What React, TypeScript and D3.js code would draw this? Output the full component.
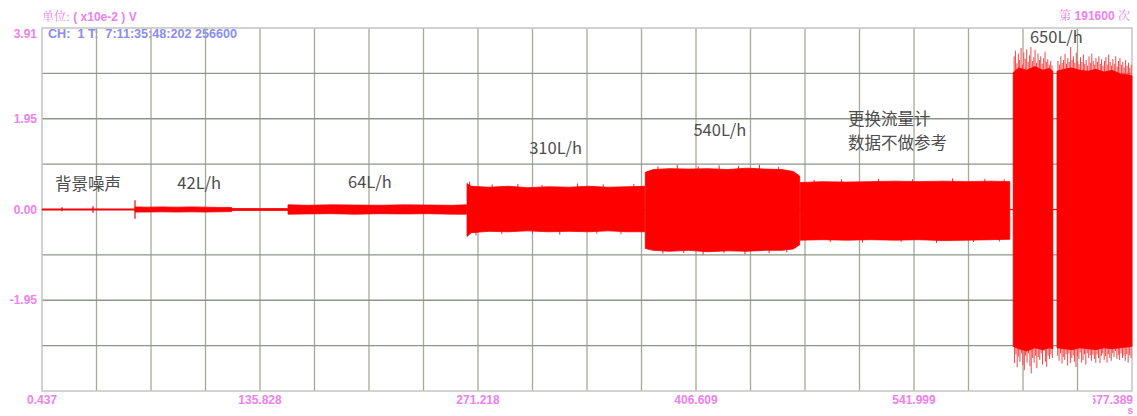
import React from "react";
import * as d3 from "d3";

// envelope of the waveform per section: [time s, upper, lower]  (unit x10e-2 V)
const noiseEnv = [[0.437, 0.012, -0.012], [57.9, 0.012, -0.012]];
const flow42Env = [
  [58.2, 0.055, -0.055], [66, 0.05, -0.055], [75, 0.055, -0.05], [84, 0.05, -0.055],
  [93, 0.055, -0.05], [102, 0.05, -0.055], [110, 0.045, -0.05], [118.2, 0.045, -0.045],
  [118.5, 0.02, -0.02], [152.9, 0.02, -0.02]
];
const flow64Env = [
  [153.2, 0.1, -0.1], [165, 0.09, -0.095], [180, 0.1, -0.09], [195, 0.095, -0.1],
  [210, 0.09, -0.09], [225, 0.1, -0.095], [240, 0.095, -0.09], [255, 0.09, -0.1], [264.1, 0.1, -0.1]
];
const flow310Env = [
  [264.4, 0.56, -0.58], [267, 0.5, -0.5], [278, 0.48, -0.47], [290, 0.5, -0.48],
  [302, 0.47, -0.46], [315, 0.49, -0.48], [328, 0.48, -0.47], [340, 0.5, -0.48],
  [352, 0.48, -0.46], [364, 0.49, -0.48], [374.8, 0.5, -0.48]
];
const flow540Env = [
  [375.1, 0.8, -0.84], [380, 0.86, -0.88], [390, 0.88, -0.9], [402, 0.87, -0.88],
  [414, 0.88, -0.91], [426, 0.86, -0.89], [438, 0.89, -0.9], [450, 0.87, -0.88],
  [460, 0.86, -0.88], [467, 0.82, -0.85], [471, 0.72, -0.76]
];
const swapMeterEnv = [
  [471.3, 0.58, -0.66], [485, 0.6, -0.65], [500, 0.59, -0.66], [515, 0.6, -0.65],
  [530, 0.61, -0.66], [545, 0.6, -0.65], [560, 0.61, -0.67], [575, 0.6, -0.66],
  [590, 0.61, -0.65], [601.5, 0.6, -0.64]
];
const flow650aEnv = [
  [603.6, 2.95, -2.95], [607, 3.05, -3.0], [612, 3.0, -3.05], [617, 3.08, -2.98],
  [622, 3.0, -3.02], [626, 3.04, -2.98], [628.2, 2.98, -3.0]
];
const flow650bEnv = [
  [630.8, 2.98, -2.98], [635, 3.02, -3.0], [640, 3.05, -3.02], [645, 3.0, -2.98],
  [650, 2.98, -3.0], [655, 3.02, -3.02], [660, 2.96, -2.98], [665, 3.0, -3.0],
  [670, 2.92, -2.98], [675, 2.9, -2.96], [677.389, 2.88, -2.95]
];

// single peaks sticking out of the envelope: [time, value]
const peaksTop = [
  [604.2, 3.3], [605.0, 3.42], [605.9, 3.15], [606.8, 3.36], [607.6, 3.22], [608.5, 3.48],
  [609.4, 3.12], [610.2, 3.38], [611.1, 3.25], [612.0, 3.45], [612.9, 3.18], [613.8, 3.32],
  [614.6, 3.5], [615.5, 3.2], [616.4, 3.28], [617.2, 3.44], [618.1, 3.16], [619.0, 3.36],
  [619.9, 3.22], [620.7, 3.3], [621.6, 3.14], [622.5, 3.26], [623.4, 3.4], [624.2, 3.18],
  [625.1, 3.24], [626.0, 3.12], [626.9, 3.2], [627.7, 3.1],
  [631.4, 3.2], [632.3, 3.12], [633.2, 3.3], [634.0, 3.16], [634.9, 3.22], [635.8, 3.35],
  [636.7, 3.14], [637.5, 3.26], [638.4, 3.18], [639.3, 3.5], [640.2, 3.22], [641.0, 3.3],
  [641.9, 3.16], [642.8, 3.38], [643.7, 3.2], [644.5, 3.12], [645.4, 3.28], [646.3, 3.18],
  [647.2, 3.34], [648.0, 3.14], [648.9, 3.22], [649.8, 3.1], [650.7, 3.3], [651.5, 3.16],
  [652.4, 3.36], [653.3, 3.2], [654.2, 3.12], [655.0, 3.26], [655.9, 3.18], [656.8, 3.3],
  [657.7, 3.14], [658.5, 3.24], [659.4, 3.1], [660.3, 3.2], [661.2, 3.28], [662.0, 3.12],
  [662.9, 3.34], [663.8, 3.18], [664.7, 3.1], [665.5, 3.24], [666.4, 3.14], [667.3, 3.3],
  [668.2, 3.08], [669.0, 3.2], [669.9, 3.26], [670.8, 3.12], [671.7, 3.18], [672.5, 3.06],
  [673.4, 3.22], [674.3, 3.1], [675.2, 3.16], [676.0, 3.05], [676.9, 3.12]
];
const peaksBottom = [
  [604.4, -3.31], [605.3, -3.12], [606.1, -3.4], [607.0, -3.17], [607.8, -3.28], [608.7, -3.1],
  [609.6, -3.35], [610.5, -3.46], [611.3, -3.15], [612.2, -3.3], [613.1, -3.1], [614.0, -3.38],
  [614.8, -3.53], [615.7, -3.2], [616.6, -3.3], [617.5, -3.15], [618.3, -3.42], [619.2, -3.18],
  [620.1, -3.24], [621.0, -3.1], [621.8, -3.34], [622.7, -3.05], [623.6, -3.28], [624.4, -3.39],
  [625.3, -3.15], [626.2, -3.22], [627.0, -3.12], [627.9, -3.2],
  [631.2, -3.15], [632.1, -3.26], [633.0, -3.1], [633.9, -3.32], [634.7, -3.18], [635.6, -3.24],
  [636.5, -3.12], [637.4, -3.36], [638.2, -3.1], [639.1, -3.31], [640.0, -3.2], [640.9, -3.14],
  [641.7, -3.28], [642.6, -3.39], [643.5, -3.16], [644.4, -3.22], [645.2, -3.08], [646.1, -3.3],
  [647.0, -3.24], [647.9, -3.12], [648.7, -3.34], [649.6, -3.1], [650.5, -3.2], [651.4, -3.14],
  [652.2, -3.26], [653.1, -3.13], [654.0, -3.22], [654.9, -3.3], [655.7, -3.12], [656.6, -3.2],
  [657.5, -3.31], [658.4, -3.15], [659.2, -3.1], [660.1, -3.24], [661.0, -3.16], [661.9, -3.3],
  [662.7, -3.12], [663.6, -3.2], [664.5, -3.26], [665.4, -3.1], [666.2, -3.18], [667.1, -3.05],
  [668.0, -3.22], [668.9, -3.14], [669.7, -3.24], [670.6, -3.1], [671.5, -3.2], [672.4, -3.15],
  [673.2, -3.26], [674.1, -3.12], [675.0, -3.3], [675.9, -3.14], [676.8, -3.2]
];
// small fuzz on the middle sections
const fuzzPeaks = [
  [266, 0.6], [280, 0.54], [296, 0.55], [311, 0.53], [333, 0.56], [349, 0.54], [368, 0.55],
  [270, -0.56], [286, -0.53], [305, -0.52], [322, -0.54], [345, -0.52], [360, -0.53],
  [383, 0.93], [395, 0.96], [408, 0.93], [421, 0.95], [433, 0.94], [446, 0.96], [458, 0.92],
  [386, -0.95], [399, -0.94], [411, -0.97], [424, -0.94], [437, -0.96], [452, -0.94], [463, -0.92],
  [480, 0.64], [497, 0.65], [520, 0.66], [541, 0.65], [566, 0.67], [586, 0.66], [598, 0.65],
  [490, -0.7], [510, -0.71], [534, -0.7], [556, -0.72], [579, -0.7], [595, -0.69]
];
const noiseTicks = [[12.9, 0.05], [12.9, -0.04], [32.1, 0.07], [32.1, -0.07], [58.2, 0.2], [58.2, -0.2]];

const xTickLabels = ["0.437", "135.828", "271.218", "406.609", "541.999", "677.389"];
const yTickLabels = ["3.91", "1.95", "0.00", "-1.95"];

// annotations: [time, value, text]
const notes: [number, number, string][] = [
  [8.5, 0.43, "背景噪声"],
  [84.5, 0.45, "42L/h"],
  [190.5, 0.47, "64L/h"],
  [303.0, 1.2, "310L/h"],
  [405.0, 1.58, "540L/h"],
  [501.0, 1.82, "更换流量计"],
  [501.0, 1.3, "数据不做参考"],
  [614.0, 3.58, "650L/h"]
];

const W = 1137, H = 416;
const L = 42, R = 1132, T = 28, B = 391;
const pink = "#ee80ee";

export default function App() {
  const x = d3.scaleLinear().domain([0.437, 677.389]).range([L, R]);
  const y = d3.scaleLinear().domain([-3.91, 3.91]).range([B, T]);
  const area = d3.area<number[]>().x(d => x(d[0])).y0(d => y(d[2])).y1(d => y(d[1]));
  const segs = [noiseEnv, flow42Env, flow64Env, flow310Env, flow540Env, swapMeterEnv, flow650aEnv, flow650bEnv];

  const xDiv = 20, yDiv = 8;
  const xt0 = x.domain()[0], xSpan = x.domain()[1] - x.domain()[0];
  const vGrid = d3.range(1, xDiv).map(i => xt0 + (i * xSpan) / xDiv);
  const hGrid = d3.range(1, yDiv).map(i => -3.91 + (i * 7.82) / yDiv);
  const sans = "'Liberation Sans', Arial, sans-serif";
  const cjk = "'Noto Sans CJK SC', 'Noto Sans', sans-serif";

  return (
    <svg width={W} height={H} style={{ position: "absolute", left: 0, top: 0, background: "#fff" }}>
      <defs>
        <clipPath id="lastTick">
          <rect x={1093} y={390} width={44} height={26} />
        </clipPath>
      </defs>
      <text x={42} y={21} fill={pink} fontSize={12} fontFamily={sans} fontWeight="bold">
        <tspan fontFamily="'Noto Serif CJK SC', serif" fontWeight="normal">单位:</tspan> ( x10e-2 ) V
      </text>
      <text x={1130} y={20} textAnchor="end" fill={pink} fontSize={12} fontFamily={sans} fontWeight="bold">
        <tspan fontFamily="'Noto Serif CJK SC', serif" fontWeight="normal">第</tspan> 191600 <tspan fontFamily="'Noto Serif CJK SC', serif" fontWeight="normal">次</tspan>
      </text>
      <text x={48} y={38} fill="#8a8cf0" fontSize={12.6} fontFamily={sans} fontWeight="bold" style={{ whiteSpace: "pre" }}>
        CH:  1 T:  7:11:35:48:202 256600
      </text>

      {vGrid.map((v, i) => (
        <line key={"v" + i} x1={x(v)} x2={x(v)} y1={T} y2={B} stroke="#a3aa9c" strokeWidth={1.3} />
      ))}
      {hGrid.map((v, i) => (
        <line key={"h" + i} x1={L} x2={R} y1={y(v)} y2={y(v)} stroke="#8e9686" strokeWidth={1.3} />
      ))}
      <rect x={L} y={T} width={R - L} height={B - T} fill="none" stroke="#c4c4c4" strokeWidth={1.5} />

      <line x1={x(0.437)} x2={x(677.389)} y1={y(0)} y2={y(0)} stroke="#f00" strokeWidth={1} />
      {noiseTicks.map((d, i) => (
        <line key={"n" + i} x1={x(d[0])} x2={x(d[0])} y1={y(0)} y2={y(d[1])} stroke="#f00" strokeWidth={1.2} />
      ))}
      {peaksTop.concat(peaksBottom).map((d, i) => (
        <line key={"p" + i} x1={x(d[0])} x2={x(d[0])} y1={y(0)} y2={y(d[1])} stroke="#f04848" strokeWidth={1} />
      ))}
      {fuzzPeaks.map((d, i) => (
        <line key={"f" + i} x1={x(d[0])} x2={x(d[0])} y1={y(0)} y2={y(d[1])} stroke="#ff2020" strokeWidth={1} />
      ))}
      {segs.map((s, i) => (
        <path key={"s" + i} d={area(s as number[][]) || ""} fill="#ff0000" stroke="#ff0000" strokeWidth={0.8} />
      ))}

      {yTickLabels.map((t, i) => {
        const v = +t;
        const yy = Math.max(y(v) + 4, T + 10);
        return (
          <text key={"yl" + i} x={37} y={yy} textAnchor="end" fill={pink} fontSize={12} fontFamily={sans} fontWeight="bold">
            {t}
          </text>
        );
      })}
      {xTickLabels.map((t, i) => {
        const v = +t;
        const last = i === xTickLabels.length - 1;
        return (
          <text key={"xl" + i} x={last ? 1133 : x(v)} y={404} textAnchor={last ? "end" : "middle"}
            clipPath={last ? "url(#lastTick)" : undefined}
            fill={pink} fontSize={12} fontFamily={sans} fontWeight="bold">
            {t}
          </text>
        );
      })}
      <text x={1133} y={414} textAnchor="end" fill={pink} fontSize={10} fontFamily={sans} fontWeight="bold">s</text>

      {notes.map((n, i) => (
        <text key={"a" + i} x={x(n[0])} y={y(n[1])} fill="#4d4d4d" fontSize={16.5} fontFamily={cjk}>
          {n[2]}
        </text>
      ))}
    </svg>
  );
}
